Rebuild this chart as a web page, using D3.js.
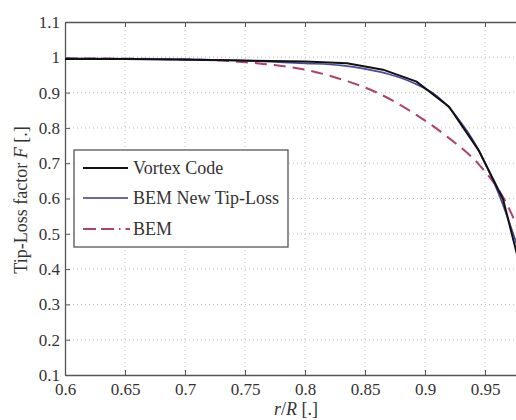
<!DOCTYPE html>
<html><head><meta charset="utf-8">
<script src="https://cdn.jsdelivr.net/npm/d3@7"></script>
<style>html,body{margin:0;padding:0;background:#fff;overflow:hidden}</style>
</head><body>
<svg id="c" width="516" height="420"></svg>
<script>
const xTicks = [0.6,0.65,0.7,0.75,0.8,0.85,0.9,0.95];
const yTicks = [0.1,0.2,0.3,0.4,0.5,0.6,0.7,0.8,0.9,1,1.1];
const seriesNames = ["Vortex Code","BEM New Tip-Loss","BEM"];

const vortexR = [0.6,0.65,0.7,0.75,0.8,0.835,0.865,0.893,0.92,0.945,0.965,0.985];
const vortexF = [0.995,0.995,0.993,0.991,0.988,0.983,0.965,0.931,0.86,0.735,0.598,0.33];

const newTipR = [0.6,0.7,0.75,0.8,0.83,0.85,0.87,0.89,0.91,0.92,0.93,0.94,0.95,0.96,0.97,0.975,0.98,0.99];
const newTipF = [0.997,0.995,0.99,0.983,0.977,0.967,0.952,0.928,0.89,0.858,0.815,0.765,0.7,0.625,0.535,0.485,0.43,0.3];

const bemR = [0.6,0.65,0.7,0.74,0.76,0.8,0.83,0.86,0.89,0.92,0.945,0.965,0.975,0.985,0.995];
const bemF = [0.997,0.996,0.994,0.989,0.983,0.965,0.938,0.9,0.843,0.771,0.696,0.604,0.535,0.45,0.3];

const FONT = '"Liberation Serif"';
const svg = d3.select("#c");
const L = 65, T = 22, B = 375, R = 545;
const x = d3.scaleLinear().domain([0.6,1.0]).range([L,R]);
const y = d3.scaleLinear().domain([0.1,1.1]).range([B,T]);

// grid
const g = svg.append("g");
g.selectAll(".gx").data(xTicks.slice(1).concat([1.0])).enter().append("line")
  .attr("x1",d=>x(d)).attr("x2",d=>x(d)).attr("y1",T).attr("y2",B)
  .attr("stroke","#c0c0c0").attr("stroke-width",1).attr("stroke-dasharray","1,3");
g.selectAll(".gy").data(yTicks.slice(1,-1)).enter().append("line")
  .attr("y1",d=>y(d)).attr("y2",d=>y(d)).attr("x1",L).attr("x2",R)
  .attr("stroke","#c0c0c0").attr("stroke-width",1).attr("stroke-dasharray","1,3");

// axes
const axB = d3.axisBottom(x).tickValues(xTicks).tickSizeInner(-5).tickSizeOuter(0).tickPadding(8)
  .tickFormat(d=>d3.format("")(d));
const axT = d3.axisTop(x).tickValues(xTicks.concat([1.0])).tickSizeInner(-5).tickSizeOuter(0).tickFormat("");
const axL = d3.axisLeft(y).tickValues(yTicks).tickSizeInner(-5).tickSizeOuter(0).tickPadding(5)
  .tickFormat(d=>d3.format("")(+d.toFixed(1)));
const axR = d3.axisRight(y).tickValues(yTicks).tickSizeInner(-5).tickSizeOuter(0).tickFormat("");

function style(sel){
  sel.attr("font-family",null);
  sel.select(".domain").attr("stroke","#555").attr("stroke-width",1.3);
  sel.selectAll(".tick line").attr("stroke","#555").attr("stroke-width",1);
  sel.selectAll("text").style("font-family",FONT).attr("font-size",17).attr("fill","#333");
}
svg.append("g").attr("transform",`translate(0,${B})`).call(axB).call(style);
svg.append("g").attr("transform",`translate(0,${T})`).call(axT).call(style);
svg.append("g").attr("transform",`translate(${L},0)`).call(axL).call(style);
svg.append("g").attr("transform",`translate(${R},0)`).call(axR).call(style);

// clip for lines
svg.append("clipPath").attr("id","pc").append("rect").attr("x",L).attr("y",T).attr("width",R-L).attr("height",B-T);

const line = d3.line().x(d=>x(d[0])).y(d=>y(d[1]));
const lg = svg.append("g").attr("clip-path","url(#pc)");
lg.append("path").datum(d3.zip(bemR,bemF)).attr("d",line.curve(d3.curveMonotoneX))
  .attr("fill","none").attr("stroke","#b0406e").attr("stroke-width",2).attr("stroke-dasharray","12,7");
lg.append("path").datum(d3.zip(newTipR,newTipF)).attr("d",line.curve(d3.curveMonotoneX))
  .attr("fill","none").attr("stroke","#4a4a9c").attr("stroke-width",1.7);
lg.append("path").datum(d3.zip(vortexR,vortexF)).attr("d",line.curve(d3.curveLinear))
  .attr("fill","none").attr("stroke","#111").attr("stroke-width",2);

// legend
const leg = svg.append("g");
leg.append("rect").attr("x",74).attr("y",150).attr("width",214).attr("height",97)
  .attr("fill","#fff").attr("stroke","#555").attr("stroke-width",1.3);
const legY = [168,198,229];
const legStyles = [
  {c:"#111",w:2,d:null},
  {c:"#6a6aaa",w:2,d:null},
  {c:"#b0406e",w:2,d:"13,5,13,5,1.5,5"}
];
seriesNames.forEach((n,i)=>{
  leg.append("line").attr("x1",83).attr("x2",i==2?130:128).attr("y1",legY[i]).attr("y2",legY[i])
    .attr("stroke",legStyles[i].c).attr("stroke-width",legStyles[i].w)
    .attr("stroke-dasharray",legStyles[i].d);
  leg.append("text").attr("x",133).attr("y",legY[i]).attr("dy","0.35em")
    .style("font-family",FONT).attr("font-size",18).attr("fill","#333").text(n);
});

// axis labels
const yl = svg.append("text").attr("transform","translate(27,200) rotate(-90)")
  .attr("text-anchor","middle").style("font-family",FONT).attr("font-size",18).attr("fill","#333");
yl.append("tspan").text("Tip-Loss factor ");
yl.append("tspan").attr("font-style","italic").text("F");
yl.append("tspan").text(" [.]");
const xl = svg.append("text").attr("x",296).attr("y",415)
  .attr("text-anchor","middle").style("font-family",FONT).attr("font-size",18).attr("fill","#333");
xl.append("tspan").attr("font-style","italic").text("r");
xl.append("tspan").text("/");
xl.append("tspan").attr("font-style","italic").text("R");
xl.append("tspan").text(" [.]");
</script>
</body></html>
